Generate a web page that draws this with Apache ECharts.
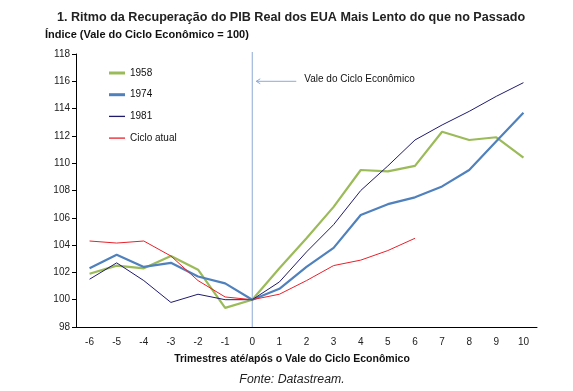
<!DOCTYPE html>
<html><head><meta charset="utf-8">
<script src="https://cdn.jsdelivr.net/npm/echarts@6/dist/echarts.min.js"></script>
<style>html,body{margin:0;padding:0;background:#fff}#c{width:573px;height:391px}</style>
</head><body><div id="c"></div>
<script>
const categories = ['-6','-5','-4','-3','-2','-1','0','1','2','3','4','5','6','7','8','9','10'];
const s1958 = [101.9,102.5,102.3,103.2,102.2,99.4,100,102.3,104.5,106.8,109.5,109.4,109.8,112.3,111.7,111.9,110.4];
const s1974 = [102.3,103.3,102.4,102.7,101.7,101.2,100,100.8,102.4,103.8,106.2,107.0,107.5,108.3,109.5,111.6,113.7];
const s1981 = [101.5,102.7,101.4,99.8,100.4,100.0,100,101.3,103.5,105.5,108.0,109.8,111.7,112.8,113.8,114.9,115.9];
const sAtual = [104.3,104.15,104.3,103.2,101.4,100.2,100,100.4,101.4,102.5,102.9,103.6,104.5,null,null,null,null];
const yTicks = {min:98, max:118, interval:2};

const chart = echarts.init(document.getElementById('c'));
const font = 'Liberation Sans, Arial, sans-serif';
function ser(name, data, color, width){
  return {name, type:'line', data, symbol:'none', connectNulls:false,
    lineStyle:{color, width}, itemStyle:{color}, z: 3};
}
const series = [
  ser('1958', s1958, '#9bbb59', 2.2),
  ser('1974', s1974, '#4f81bd', 2.2),
  ser('1981', s1981, '#1f1a6e', 1),
  ser('Ciclo atual', sAtual, '#e8202a', 1)
];
const legText = {fontFamily:font, fontSize:10, color:'#111', lineHeight:14};
chart.setOption({
  animation:false,
  title:[
    {text:'1. Ritmo da Recuperação do PIB Real dos EUA Mais Lento do que no Passado', left:57, top:11, padding:0,
     textStyle:{fontFamily:font, fontSize:12.6, fontWeight:'bold', color:'#222'}},
    {text:'Índice (Vale do Ciclo Econômico = 100)', left:45, top:29, padding:0,
     textStyle:{fontFamily:font, fontSize:11, fontWeight:'bold', color:'#111'}},
    {text:'Trimestres até/após o Vale do Ciclo Econômico', left:292, top:354, padding:0, textAlign:'center',
     textStyle:{fontFamily:font, fontSize:10.5, fontWeight:'bold', color:'#111'}},
    {text:'Fonte: Datastream.', left:292, top:374, padding:0, textAlign:'center',
     textStyle:{fontFamily:font, fontSize:12.3, fontStyle:'italic', fontWeight:'normal', color:'#222'}}
  ],
  legend:[
    {orient:'vertical', left:109, top:66, padding:0, icon:'rect', itemWidth:16, itemHeight:3, itemGap:7.7,
     textStyle:legText, data:['1958','1974']},
    {orient:'vertical', left:109, top:109.4, padding:0, icon:'rect', itemWidth:16, itemHeight:1.3, itemGap:7.7,
     textStyle:legText, data:['1981','Ciclo atual']}
  ],
  grid:{left:76, right:36, top:54, bottom:64},
  xAxis:{type:'category', data:categories, boundaryGap:true,
    axisLine:{lineStyle:{color:'#000', width:1}}, axisTick:{show:false},
    axisLabel:{fontFamily:font, fontSize:10, color:'#222', margin:10}},
  yAxis:{type:'value', min:yTicks.min, max:yTicks.max, interval:yTicks.interval,
    axisLine:{show:true, lineStyle:{color:'#000', width:1}},
    axisTick:{show:true, length:4, lineStyle:{color:'#000'}},
    splitLine:{show:false},
    axisLabel:{fontFamily:font, fontSize:10, color:'#222', margin:6}},
  series
});
const pTop = chart.convertToPixel({gridIndex:0}, ['0', 118]);
const pBot = chart.convertToPixel({gridIndex:0}, ['0', 98]);
const p0 = chart.convertToPixel({gridIndex:0}, ['0', 116]);
const ax = p0[0] + 4, ay = p0[1];
chart.setOption({graphic:[
  {type:'line', z:1, shape:{x1:pTop[0], y1:pTop[1]-2, x2:pBot[0], y2:pBot[1]}, style:{stroke:'#8ea9d6', lineWidth:1}},
  {type:'line', shape:{x1:ax, y1:ay, x2:ax+40, y2:ay}, style:{stroke:'#8ea9d6', lineWidth:1}},
  {type:'polyline', shape:{points:[[ax+4,ay-2.5],[ax,ay],[ax+4,ay+2.5]]}, style:{stroke:'#8ea9d6', lineWidth:1, fill:null}},
  {type:'text', left:ax+48, top:ay-7, style:{text:'Vale do Ciclo Econômico', font:'10px '+font, fill:'#111'}}
]});
</script></body></html>
